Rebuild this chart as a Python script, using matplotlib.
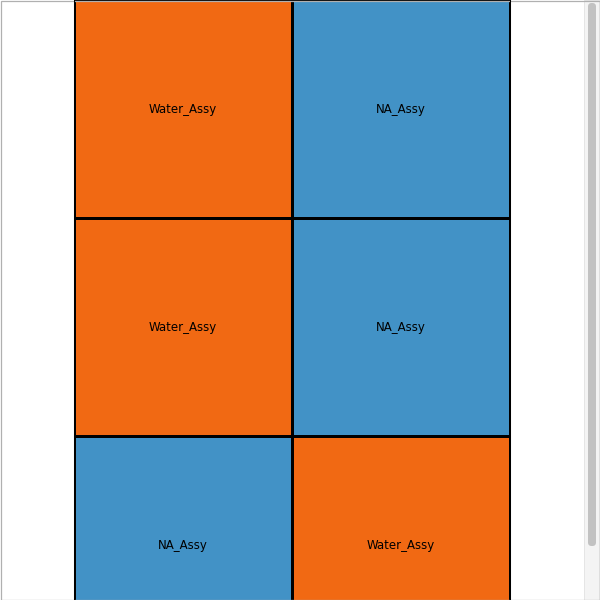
import matplotlib
matplotlib.use("Agg")
import matplotlib.pyplot as plt
import numpy as np
from matplotlib.colors import ListedColormap
from matplotlib.patches import Rectangle, FancyBboxPatch

# cell categories, row by row (top to bottom), two columns
CATEGORIES = ["Water_Assy", "NA_Assy"]
CELL_LABELS = [
    ["Water_Assy", "NA_Assy"],
    ["Water_Assy", "NA_Assy"],
    ["NA_Assy", "Water_Assy"],
]
COLORS = {"Water_Assy": "#f16913", "NA_Assy": "#4292c6"}

n_rows = len(CELL_LABELS)
n_cols = len(CELL_LABELS[0])
codes = np.array([[CATEGORIES.index(c) for c in row] for row in CELL_LABELS])
cmap = ListedColormap([COLORS[c] for c in CATEGORIES])

fig = plt.figure(figsize=(6, 6), dpi=100)
W, H = 600, 600

# grid area in pixels: x 74..510, y 0..654 (last row runs past the bottom edge)
gx0, gx1, gy0, gy1 = 74, 510, 0, 654
ax = fig.add_axes([gx0 / W, 1 - gy1 / H, (gx1 - gx0) / W, (gy1 - gy0) / H])
ax.pcolormesh(np.arange(n_cols + 1), np.arange(n_rows + 1), codes,
              cmap=cmap, vmin=-0.5, vmax=len(CATEGORIES) - 0.5,
              edgecolors="black", linewidth=0.75)
ax.set_xlim(0, n_cols)
ax.set_ylim(n_rows, 0)
ax.axis("off")

for r, row in enumerate(CELL_LABELS):
    for c, lab in enumerate(row):
        ax.text(c + 0.5, r + 0.5, lab, ha="center", va="center",
                fontsize=8.5, color="black", family="DejaVu Sans")

# left and right edge lines of grid
for gx in (gx0, gx1):
    fig.add_artist(plt.Line2D([gx / W, gx / W], [0, 1], color="black", lw=0.75))

# scrollbar track and thumb
fig.add_artist(Rectangle((584 / W, 0), 15 / W, 1, transform=fig.transFigure,
                         facecolor="#f4f4f4", edgecolor="#e2e2e2", lw=0.6))
fig.add_artist(FancyBboxPatch((588 / W, 1 - 546 / H), 8 / W, 543 / H,
                              boxstyle="round,pad=0,rounding_size=0.006",
                              transform=fig.transFigure,
                              facecolor="#c2c2c2", edgecolor="none"))

# outer frame
fig.add_artist(Rectangle((0.5 / W, 0.5 / H), 599 / W, 599 / H, transform=fig.transFigure,
                         facecolor="none", edgecolor="#b0b0b0", lw=0.9))

fig.savefig("out.png", dpi=100)
